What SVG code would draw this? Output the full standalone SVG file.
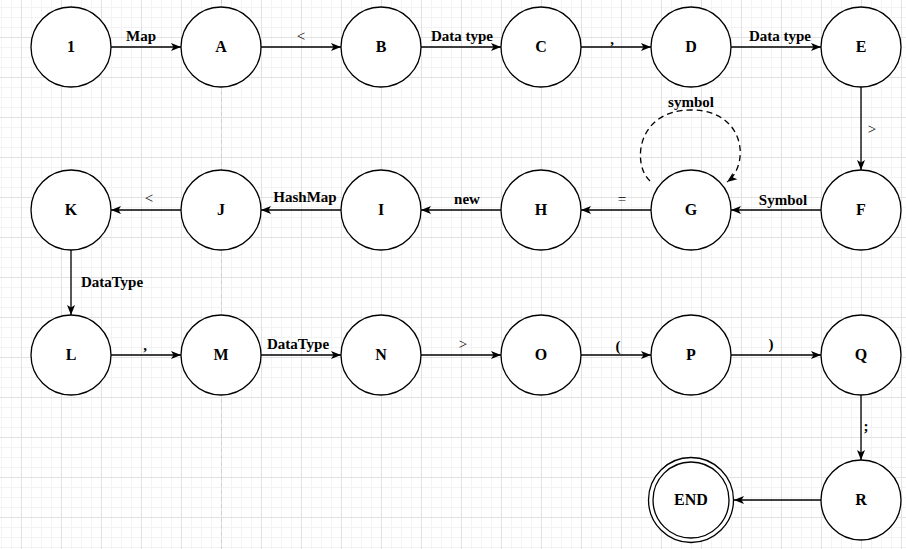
<svg xmlns="http://www.w3.org/2000/svg" width="906" height="549" viewBox="0 0 906 549">
<style>
.n{fill:#fff;stroke:#000;stroke-width:1.3}
.nl{font-family:'Liberation Serif','Times New Roman','DejaVu Serif',serif;font-weight:700;font-size:16px;text-anchor:middle;fill:#000}
.e{stroke:#000;stroke-width:1.3;fill:none;marker-end:url(#ar)}
.el{font-family:'Liberation Serif','Times New Roman','DejaVu Serif',serif;font-weight:700;font-size:15px;text-anchor:middle;fill:#000}
.sym{font-weight:400}
</style>
<defs>
<pattern id="minor" x="1" y="7" width="10" height="10" patternUnits="userSpaceOnUse"><path d="M0 0.5H10M0.5 0V10" stroke="#f3f3f3" stroke-width="1" fill="none"/></pattern>
<pattern id="major" x="21" y="37" width="40" height="40" patternUnits="userSpaceOnUse"><path d="M0 0.5H40M0.5 0V40" stroke="#e2e2e2" stroke-width="1" fill="none"/></pattern>
<marker id="ar" markerUnits="userSpaceOnUse" markerWidth="11" markerHeight="9" refX="10" refY="4.5" orient="auto"><path d="M0,0.5 L10,4.5 L0,8.5 L2.5,4.5 z" fill="#000"/></marker>
</defs>
<rect width="906" height="549" fill="#fff"/>
<rect width="906" height="549" fill="url(#minor)"/>
<rect width="906" height="549" fill="url(#major)"/>
<line x1="221.5" y1="0" x2="221.5" y2="549" stroke="#d0d0d0" stroke-dasharray="4 3"/>
<g id="connectors">
<line class="e" x1="111" y1="47" x2="181" y2="47"/>
<line class="e" x1="261" y1="47" x2="341" y2="47"/>
<line class="e" x1="421" y1="47" x2="501" y2="47"/>
<line class="e" x1="581" y1="47" x2="651" y2="47"/>
<line class="e" x1="731" y1="47" x2="821" y2="47"/>
<line class="e" x1="861" y1="87" x2="861" y2="170"/>
<line class="e" x1="821" y1="210" x2="731" y2="210"/>
<path class="e" d="M650,181 C632,165 636,110 691,110 C746,110 750,165 727,182" stroke="#222" stroke-dasharray="6 4"/>
<line class="e" x1="651" y1="210" x2="581" y2="210"/>
<line class="e" x1="501" y1="210" x2="421" y2="210"/>
<line class="e" x1="341" y1="210" x2="261" y2="210"/>
<line class="e" x1="181" y1="210" x2="111" y2="210"/>
<line class="e" x1="71" y1="250" x2="71" y2="315"/>
<line class="e" x1="111" y1="355" x2="181" y2="355"/>
<line class="e" x1="261" y1="355" x2="341" y2="355"/>
<line class="e" x1="421" y1="355" x2="501" y2="355"/>
<line class="e" x1="581" y1="355" x2="651" y2="355"/>
<line class="e" x1="731" y1="355" x2="821" y2="355"/>
<line class="e" x1="861" y1="395" x2="861" y2="460"/>
<line class="e" x1="821" y1="500" x2="734" y2="500"/>
<text class="el" x="141" y="41">Map</text>
<text class="el sym" x="301" y="41">&lt;</text>
<text class="el" x="462" y="41">Data type</text>
<text class="el" x="612" y="44">,</text>
<text class="el" x="780" y="41">Data type</text>
<text class="el sym" x="872" y="134">&gt;</text>
<text class="el" x="691" y="107">symbol</text>
<text class="el" x="783" y="205">Symbol</text>
<text class="el sym" x="622" y="204">=</text>
<text class="el" x="467" y="204">new</text>
<text class="el" x="305" y="202">HashMap</text>
<text class="el sym" x="149" y="203">&lt;</text>
<text class="el" x="112" y="287">DataType</text>
<text class="el" x="145" y="350">,</text>
<text class="el" x="298" y="349">DataType</text>
<text class="el sym" x="463" y="349">&gt;</text>
<text class="el" x="618" y="351">(</text>
<text class="el" x="771" y="349">)</text>
<text class="el" x="866" y="431">;</text>
</g>
<g id="n1"><circle class="n" cx="71" cy="47" r="40"/><text class="nl" x="71" y="52">1</text></g>
<g id="nA"><circle class="n" cx="221" cy="47" r="40"/><text class="nl" x="221" y="52">A</text></g>
<g id="nB"><circle class="n" cx="381" cy="47" r="40"/><text class="nl" x="381" y="52">B</text></g>
<g id="nC"><circle class="n" cx="541" cy="47" r="40"/><text class="nl" x="541" y="52">C</text></g>
<g id="nD"><circle class="n" cx="691" cy="47" r="40"/><text class="nl" x="691" y="52">D</text></g>
<g id="nE"><circle class="n" cx="861" cy="47" r="40"/><text class="nl" x="861" y="52">E</text></g>
<g id="nF"><circle class="n" cx="861" cy="210" r="40"/><text class="nl" x="861" y="215">F</text></g>
<g id="nG"><circle class="n" cx="691" cy="210" r="40"/><text class="nl" x="691" y="215">G</text></g>
<g id="nH"><circle class="n" cx="541" cy="210" r="40"/><text class="nl" x="541" y="215">H</text></g>
<g id="nI"><circle class="n" cx="381" cy="210" r="40"/><text class="nl" x="381" y="215">I</text></g>
<g id="nJ"><circle class="n" cx="221" cy="210" r="40"/><text class="nl" x="221" y="215">J</text></g>
<g id="nK"><circle class="n" cx="71" cy="210" r="40"/><text class="nl" x="71" y="215">K</text></g>
<g id="nL"><circle class="n" cx="71" cy="355" r="40"/><text class="nl" x="71" y="360">L</text></g>
<g id="nM"><circle class="n" cx="221" cy="355" r="40"/><text class="nl" x="221" y="360">M</text></g>
<g id="nN"><circle class="n" cx="381" cy="355" r="40"/><text class="nl" x="381" y="360">N</text></g>
<g id="nO"><circle class="n" cx="541" cy="355" r="40"/><text class="nl" x="541" y="360">O</text></g>
<g id="nP"><circle class="n" cx="691" cy="355" r="40"/><text class="nl" x="691" y="360">P</text></g>
<g id="nQ"><circle class="n" cx="861" cy="355" r="40"/><text class="nl" x="861" y="360">Q</text></g>
<g id="nR"><circle class="n" cx="861" cy="500" r="40"/><text class="nl" x="861" y="505">R</text></g>
<g id="nEND"><circle class="n" cx="691" cy="500" r="42.5"/><circle class="n" cx="691" cy="500" r="38"/><text class="nl" x="691" y="505">END</text></g>
</svg>
